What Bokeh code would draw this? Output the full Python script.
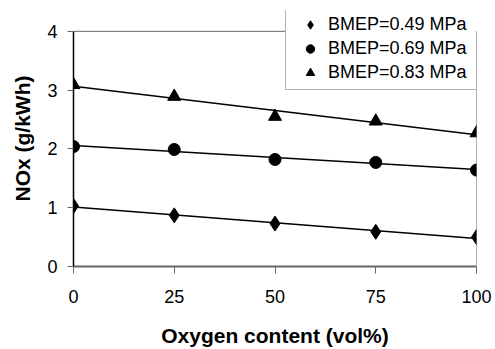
import numpy as np
from bokeh.plotting import figure
from bokeh.models import Range1d, Legend, LegendItem, FixedTicker
from bokeh.embed import file_html
from bokeh.resources import INLINE

oxygen = [0, 25, 50, 75, 100]
nox_049 = [1.03, 0.87, 0.73, 0.59, 0.50]
nox_069 = [2.04, 1.99, 1.82, 1.77, 1.64]
nox_083 = [3.09, 2.89, 2.55, 2.47, 2.27]
labels = ["BMEP=0.49 MPa", "BMEP=0.69 MPa", "BMEP=0.83 MPa"]
x_ticks = [0, 25, 50, 75, 100]
y_ticks = [0, 1, 2, 3, 4]

FONT = "Liberation Sans"
GREY = "#666666"

p = figure(width=495, height=349, output_backend="svg", toolbar_location=None,
           x_range=Range1d(0, 100), y_range=Range1d(0, 4.354),
           min_border_left=73, min_border_right=19, min_border_top=10, min_border_bottom=81)
p.background_fill_color = "white"
p.border_fill_color = "white"
p.outline_line_color = None
p.grid.visible = False

p.xaxis.ticker = FixedTicker(ticks=x_ticks)
p.yaxis.ticker = FixedTicker(ticks=y_ticks)
p.yaxis.bounds = (y_ticks[0], y_ticks[-1])
p.xaxis.minor_tick_line_color = None
p.yaxis.minor_tick_line_color = None
p.xaxis.axis_label = "Oxygen content (vol%)"
p.yaxis.axis_label = "NOx (g/kWh)"
for ax in (p.xaxis, p.yaxis):
    ax.axis_label_text_font = FONT
    ax.axis_label_text_font_style = "bold"
    ax.axis_label_text_font_size = "21px"
    ax.axis_label_text_color = "black"
    ax.major_label_text_font = FONT
    ax.major_label_text_font_size = "18px"
    ax.major_label_text_color = "black"
    ax.major_tick_in = 0
p.yaxis.axis_line_color = "black"
p.yaxis.axis_line_width = 1.5
p.yaxis.major_tick_line_color = GREY
p.yaxis.major_tick_out = 6
p.yaxis.major_label_standoff = 10
p.yaxis.axis_label_standoff = 10
p.xaxis.axis_line_color = GREY
p.xaxis.axis_line_width = 2
p.xaxis.major_tick_line_color = GREY
p.xaxis.major_tick_out = 7
p.xaxis.major_label_standoff = 16
p.xaxis.axis_label_standoff = 18

# plot-area border (top and right edges)
x0, x1 = x_ticks[0], x_ticks[-1]
y0, y1 = y_ticks[0], y_ticks[-1]
p.line(x=[x0, x1, x1], y=[y1, y1, y0], line_color=GREY, line_width=1)

series = [(nox_049, "diamond", 15), (nox_069, "circle", 12), (nox_083, "triangle", 13)]
items = []
xs = np.array(oxygen, dtype=float)
for (vals, marker, size), lab in zip(series, labels):
    k, b = np.polyfit(xs, np.array(vals), 1)
    p.line(x=[xs[0], xs[-1]], y=[k * xs[0] + b, k * xs[-1] + b], line_color="black", line_width=1.5)
    r = p.scatter(x=oxygen, y=vals, marker=marker, size=size, fill_color="black", line_color="black")
    items.append(LegendItem(label=lab, renderers=[r]))

legend = Legend(items=items, location=(212, 176), padding=6, margin=0, spacing=3,
                glyph_width=36, glyph_height=21, label_height=21, label_standoff=-4, label_width=148,
                label_text_font=FONT, label_text_font_size="18px", label_text_color="black",
                border_line_color=GREY, border_line_width=1, background_fill_color="white",
                background_fill_alpha=1)
p.add_layout(legend, "center")

open("out.html", "w").write(file_html(p, INLINE))
